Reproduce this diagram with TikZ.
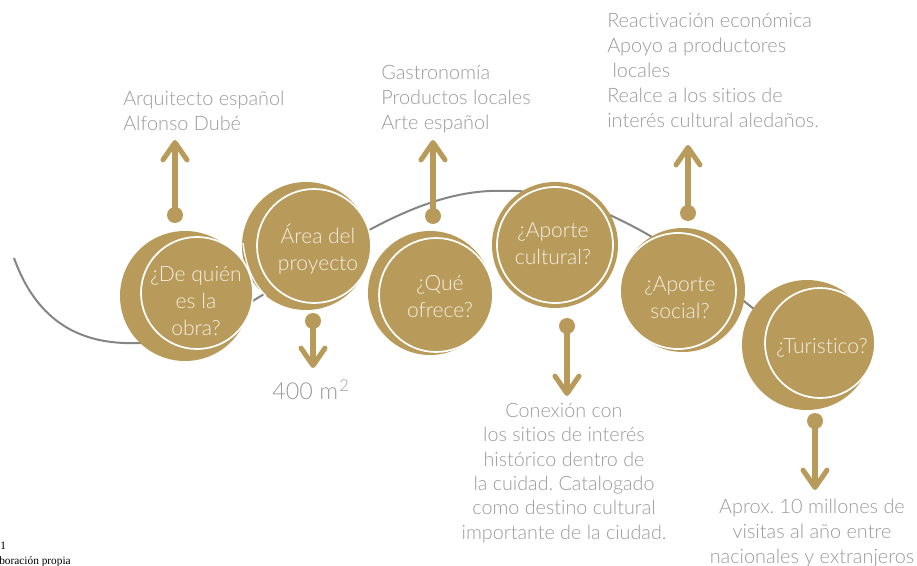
\documentclass[tikz,border=0pt]{standalone}
\usepackage{fontspec}
\setmainfont{Lato Light}[Ligatures=NoCommon]
\newfontfamily\serifnote{Liberation Serif}
\usetikzlibrary{arrows.meta}
\frenchspacing
\definecolor{gold}{HTML}{B89B5A}
\definecolor{txtgray}{HTML}{9A9A9A}
\definecolor{curvegray}{HTML}{858585}
\definecolor{cream}{HTML}{F3EEE2}
\newcommand\bub[7]{%
  \node[outerdisk, minimum size=#4*1.5pt] (#1o) at (#2,#3) {};
  \node[innerring, minimum size=#7*1.5pt] (#1i) at (#5,#6) {};
}
\begin{document}
\begin{tikzpicture}[x=0.75pt,y=-0.75pt,
  outerdisk/.style={circle, fill=gold, draw=none, inner sep=0},
  innerring/.style={circle, fill=gold, draw=white, line width=1.3pt, inner sep=0},
  conn/.style={draw=gold, line width=3.8pt, line cap=round, -{Straight Barb[length=13pt,width=18pt,round]}},
  dot/.style={circle, fill=gold, minimum size=12pt, inner sep=0},
  lab/.style={text=cream, font=\frenchspacing\fontsize{15.8}{20.25}\selectfont, align=center, inner sep=0},
  info/.style={text=txtgray, font=\frenchspacing\fontsize{14.9}{18.75}\selectfont, inner sep=0},
  curve/.style={draw=curvegray, line width=1.5pt},
]
\useasboundingbox (0,0) rectangle (917,566);

% background curve
\coordinate (cs) at (14,258);
\coordinate (ce) at (770,322);
\draw[curve] (cs) .. controls (40,330) and (90,345) .. (140,343)
  .. controls (240,345) and (370,185) .. (505,191)
  .. controls (600,188) and (700,265) .. (ce);

% bubbles
\bub{b2}{306}{246}{64}{314}{246}{57}
\draw[white, line width=1pt] (243,243) .. controls (246,268) and (254,284) .. (266,296);
\bub{b1}{185}{296}{65}{197}{293}{56}
\bub{b3}{430}{293}{62}{436}{295}{57}
\bub{b4}{555}{245}{63}{555}{245}{58}
\bub{b5}{683}{290}{62}{678}{291}{58}
\bub{b6}{807}{345}{65}{820}{343}{55}

% bubble labels
\node[lab] (l1) at (196,301) {¿De quién\\es la\\obra?};
\node[lab] (l2) at (318,249) {Área del\\proyecto};
\node[lab] (l3) at (440,297) {¿Qué\\ofrece?};
\node[lab] (l4) at (553,244) {¿Aporte\\cultural?};
\node[lab] (l5) at (680,298) {¿Aporte\\social?};
\node[lab] (l6) at (822,348) {¿Turistico?};

% connectors
\node[dot] (d1) at (175,215) {};
\coordinate (e1) at (175,140);
\node[dot] (d2) at (313,321) {};
\coordinate (e2) at (313,368);
\node[dot] (d3) at (433,216) {};
\coordinate (e3) at (433,140);
\node[dot] (d4) at (567,326) {};
\coordinate (e4) at (567,396);
\node[dot] (d5) at (688,213) {};
\coordinate (e5) at (688,145);
\node[dot] (d6) at (815,421) {};
\coordinate (e6) at (815,490);
\foreach \i in {1,...,6} {\draw[conn] (d\i.center) -- (e\i);}

% info texts
\node[info, anchor=north west, align=left] (t1) at (123,91)
  {Arquitecto español\\Alfonso Dubé};
\node[info, anchor=north west, align=left] (t2) at (381,65)
  {Gastronomía\\Productos locales\\Arte español};
\node[info, anchor=north west, align=left] (t3) at (607,13)
  {Reactivación económica\\Apoyo a productores\\\hspace*{4pt}locales\\Realce a los sitios de\\interés cultural aledaños.};
\node[text=txtgray, font=\fontsize{17.5}{22}\selectfont, inner sep=0] (t4) at (311,390) {400 m\textsuperscript{\kern1pt 2}};
\node[info, anchor=north, align=center, font=\frenchspacing\fontsize{14.8}{18.3}\selectfont] (t5) at (564,403)
  {Conexión con\\los sitios de interés\\histórico dentro de\\la cuidad. Catalogado\\como destino cultural\\importante de la ciudad.};
\node[info, anchor=north, align=center] (t6) at (812,499)
  {Aprox. 10 millones de\\visitas al año entre\\nacionales y extranjeros};

% cropped source note
\node[anchor=base west, inner sep=0, font=\serifnote\fontsize{8.5}{10}\selectfont] (n1) at (0,549) {1};
\node[anchor=base west, inner sep=0, font=\serifnote\fontsize{8.5}{10}\selectfont] (n2) at (-1,564) {boración propia};
\end{tikzpicture}
\end{document}
